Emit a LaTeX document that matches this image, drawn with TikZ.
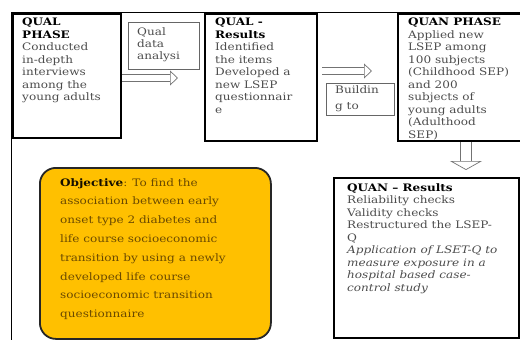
\documentclass[tikz,border=0pt]{standalone}
\usepackage{fontspec}
\setmainfont{DejaVu Serif}[FakeStretch=1.17]
\usetikzlibrary{arrows.meta}
\definecolor{objfill}{HTML}{FFC000}
\definecolor{objtext}{HTML}{6B4A00}
\tikzset{
  phasebox/.style={draw, line width=2.2pt, anchor=north west, inner sep=0pt},
  notebox/.style={draw=black!60, line width=0.8pt, anchor=north west, inner sep=0pt},
  txt/.style={anchor=north west, align=left, inner sep=0pt, text=black!70,
    font=\fontsize{10.3}{12.5}\selectfont},
  hollow/.style={draw=black!55, line width=0.7pt, double=white, double distance=6pt,
    -{Triangle[open, length=8pt, width=15pt]}},
}
\begin{document}
\begin{tikzpicture}[x=1pt, y=-1pt]
  \useasboundingbox (0,0) rectangle (520,340);
  \draw[line width=1pt] (11,345) -- (11,12) -- (525,12);

  % qualitative side
  \node[phasebox, minimum width=108, minimum height=124] (p1) at (12,13) {};
  \node[txt] (t1) at (22,18) {\textbf{\color{black}QUAL}\\\textbf{\color{black}PHASE}\\Conducted\\in-depth\\interviews\\among the\\young adults};
  \node[notebox, minimum width=71, minimum height=47] (qual) at (128,22) {};
  \node[txt, font=\fontsize{10.3}{12}\selectfont] (tq) at (137,27) {Qual\\data\\analysi};
  \coordinate (a1end) at (178,78);
  \draw[hollow] (p1.east |- a1end) -- (a1end);

  \node[phasebox, minimum width=112, minimum height=127] (p2) at (204,13) {};
  \node[txt] (t2) at (215,18) {\textbf{\color{black}QUAL -}\\\textbf{\color{black}Results}\\Identified\\the items\\Developed a\\new LSEP\\questionnair\\e};
  \coordinate (a2end) at (372,71);
  \draw[hollow] ([xshift=4pt]p2.east |- a2end) -- (a2end);
  \node[notebox, minimum width=68, minimum height=32] (build) at (326,83) {};
  \node[txt, font=\fontsize{10.3}{16}\selectfont] (tb) at (335,85) {Buildin\\g to};

  % quantitative side
  \begin{scope}
    \clip (397,13) rectangle (525,139);
    \node[txt] (t3) at (408,18) {\textbf{\color{black}QUAN PHASE}\\Applied new\\LSEP among\\100 subjects\\(Childhood SEP)\\and 200\\subjects of\\young adults\\(Adulthood\\SEP)};
  \end{scope}
  \node[phasebox, minimum width=128, minimum height=127] (p3) at (397,13) {};
  \coordinate (a3end) at (466,170);
  \draw[hollow, double distance=10pt, -{Triangle[open, length=9pt, width=32pt]}] (p3.south -| a3end) -- (a3end);

  \node[phasebox, line width=1.8pt, minimum width=185, minimum height=160] (p4) at (333,177) {};
  \node[txt] (t4) at (347,183) {\textbf{\color{black}QUAN -- Results}\\Reliability checks\\Validity checks\\Restructured the LSEP-\\Q\\\textit{Application of LSET-Q to}\\\textit{measure exposure in a}\\\textit{hospital based case-}\\\textit{control study}};

  % objective
  \node[draw=black!85, fill=objfill, line width=1.8pt, rounded corners=16pt, anchor=north west,
    inner sep=0pt, minimum width=231, minimum height=171] (obj) at (39,167) {};
  \node[txt, text=objtext, font=\fontsize{10.3}{18.8}\selectfont] (tobj) at (60,178) {\textbf{\color{black!80!objtext}Objective}: To find the\\association between early\\onset type 2 diabetes and\\life course socioeconomic\\transition by using a newly\\developed life course\\socioeconomic transition\\questionnaire};
\end{tikzpicture}
\end{document}
